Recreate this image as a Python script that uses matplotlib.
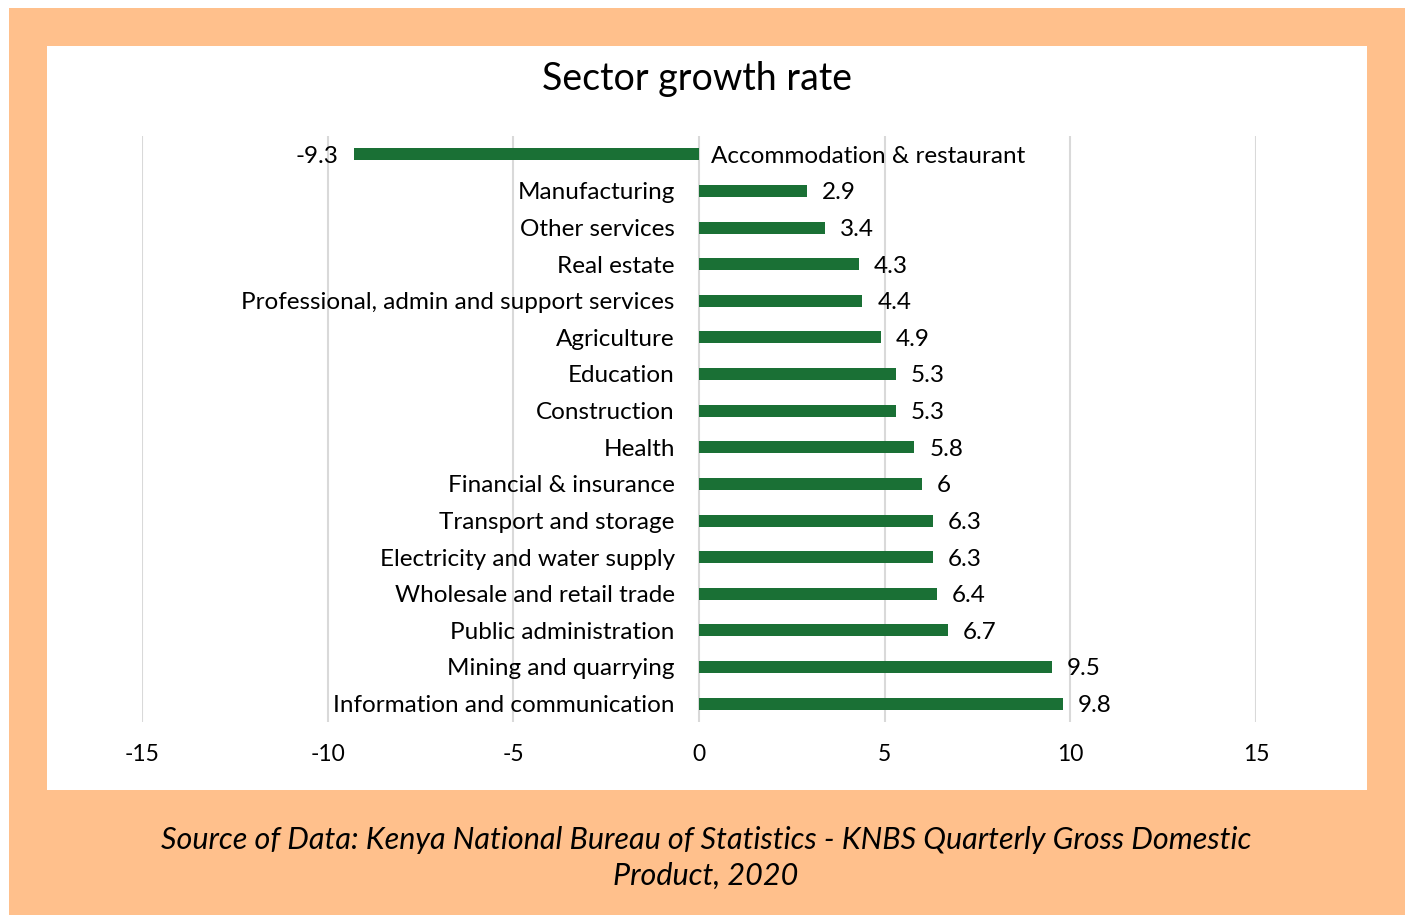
import matplotlib.pyplot as plt
from matplotlib.patches import Rectangle

sectors = ["Accommodation & restaurant", "Manufacturing", "Other services", "Real estate",
           "Professional, admin and support services", "Agriculture", "Education",
           "Construction", "Health", "Financial & insurance", "Transport and storage",
           "Electricity and water supply", "Wholesale and retail trade",
           "Public administration", "Mining and quarrying", "Information and communication"]
growth = [-9.3, 2.9, 3.4, 4.3, 4.4, 4.9, 5.3, 5.3, 5.8, 6, 6.3, 6.3, 6.4, 6.7, 9.5, 9.8]
xticks = [-15, -10, -5, 0, 5, 10, 15]

W, H = 1411, 915
fig = plt.figure(figsize=(W / 100, H / 100), dpi=100)
fig.patch.set_facecolor("white")

# orange frame and white panel
fig.patches.append(Rectangle((9 / W, 0), (1405 - 9) / W, 1 - 8 / H,
                             transform=fig.transFigure, facecolor="#ffc08c", edgecolor="none", zorder=-2))
fig.patches.append(Rectangle((47 / W, 1 - 790 / H), (1367 - 47) / W, (790 - 46) / H,
                             transform=fig.transFigure, facecolor="white", edgecolor="none", zorder=-1))

ax = fig.add_axes([142 / W, 1 - 722 / H, (1256 - 142) / W, (722 - 136) / H])
ax.set_facecolor("none")

ypos = list(range(len(sectors)))
ax.barh(ypos, growth, height=0.33, color="#1a7035", zorder=3)
ax.set_ylim(len(sectors) - 0.5, -0.5)
ax.set_xlim(-15, 15)
ax.set_xticks(xticks)
ax.set_xticklabels([str(t) for t in xticks], fontsize=16.5, family="Lato")
ax.set_yticks([])
ax.tick_params(axis="x", length=0, pad=16)
for s in ax.spines.values():
    s.set_visible(False)
ax.grid(axis="x", color="#d9d9d9", linewidth=1.5, zorder=0)

fs = 17.5
for y, name, v in zip(ypos, sectors, growth):
    yt = y + 0.05
    if v >= 0:
        ax.text(-0.65, yt, name, ha="right", va="center", fontsize=fs, family="Lato")
        ax.text(v + 0.4, yt, f"{v:g}", ha="left", va="center", fontsize=fs, family="Lato")
    else:
        ax.text(0.33, yt, name, ha="left", va="center", fontsize=fs, family="Lato")
        ax.text(v - 0.4, yt, f"{v:g}", ha="right", va="center", fontsize=fs, family="Lato")

fig.text(697 / W, 1 - 79 / H, "Sector growth rate", ha="center", va="center", fontsize=27, family="Lato")
fig.text(706 / W, 1 - 858 / H,
         "Source of Data: Kenya National Bureau of Statistics - KNBS Quarterly Gross Domestic\nProduct, 2020",
         ha="center", va="center", fontsize=22, style="italic", family="Lato", linespacing=1.35)

fig.savefig("out.png", dpi=100)
